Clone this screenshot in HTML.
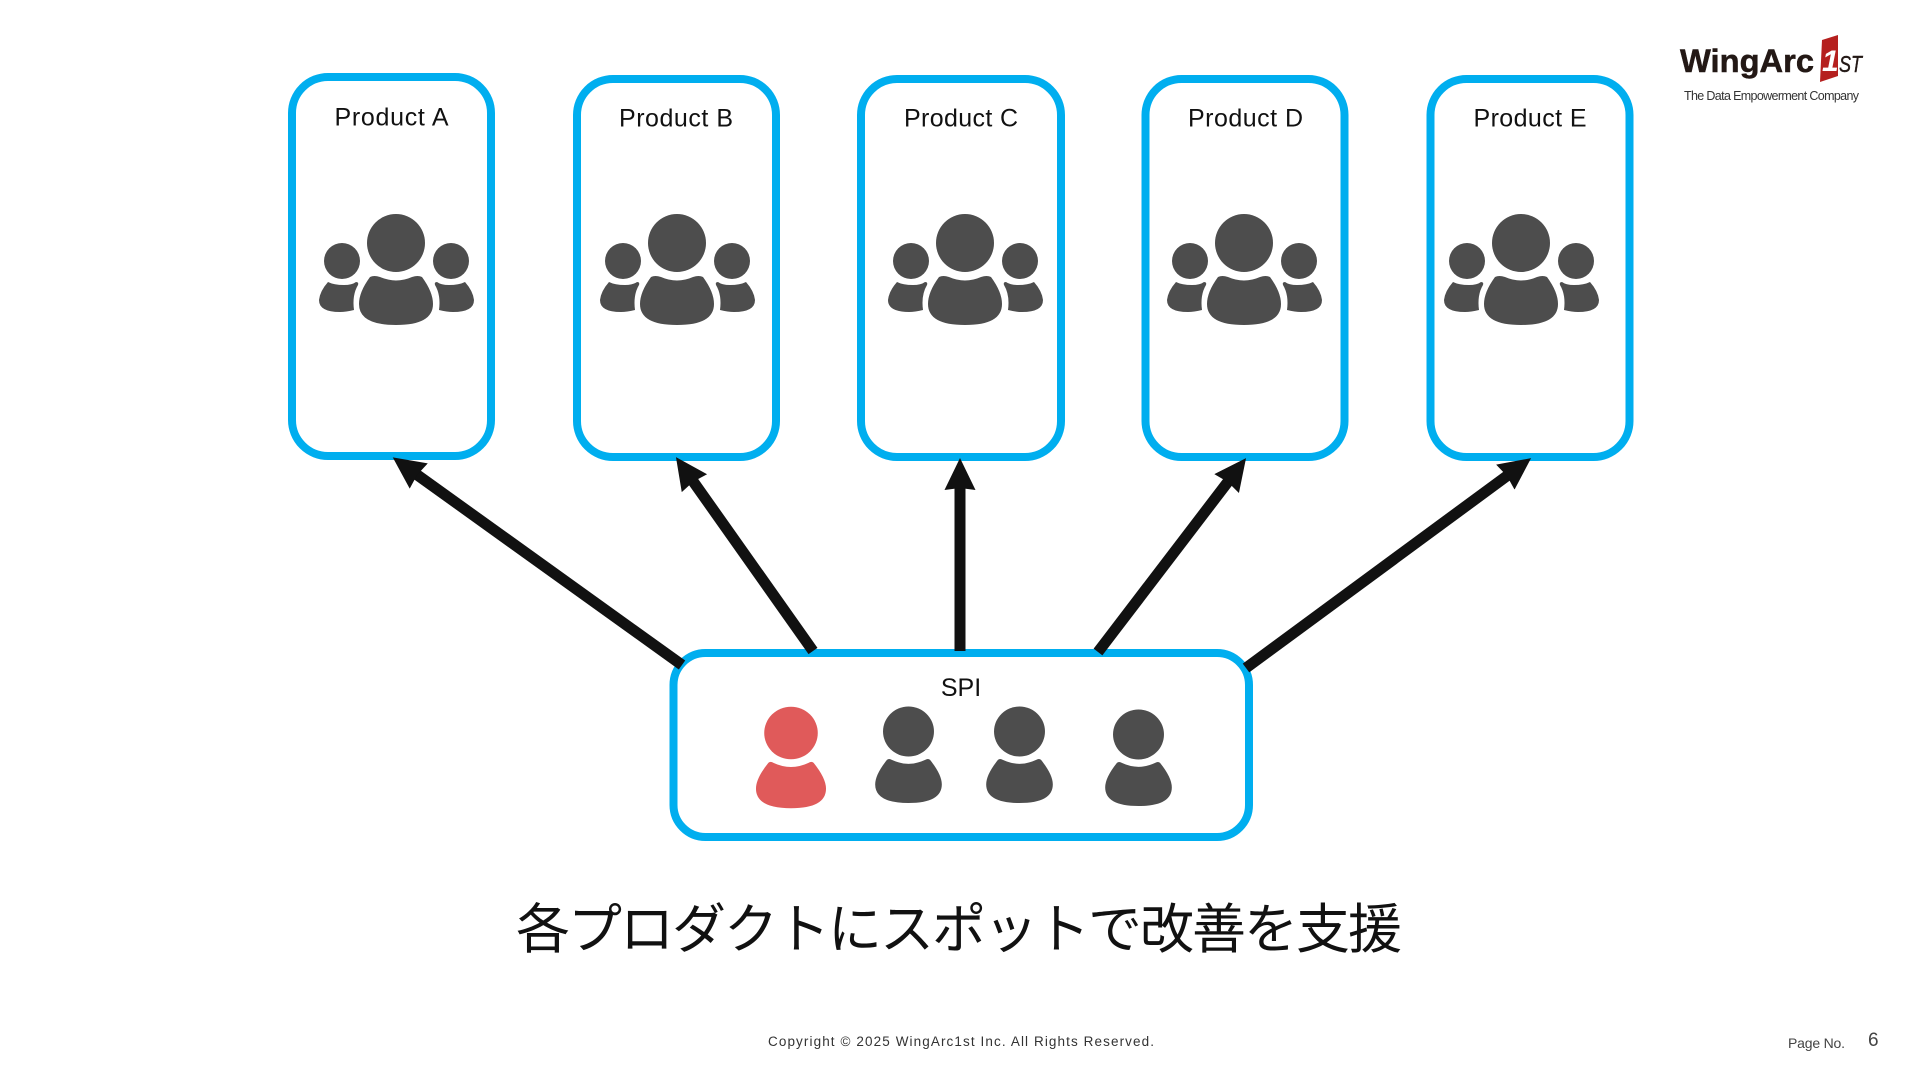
<!DOCTYPE html>
<html lang="ja">
<head>
<meta charset="utf-8">
<title>SPI</title>
<style>
html,body{margin:0;padding:0;background:#fff;width:1920px;height:1080px;overflow:hidden}
svg{display:block}
text{font-family:"Liberation Sans","Noto Sans CJK JP",sans-serif}
</style>
</head>
<body>
<svg width="1920" height="1080" viewBox="0 0 1920 1080" xmlns="http://www.w3.org/2000/svg">
<defs>
<marker id="h" markerUnits="userSpaceOnUse" markerWidth="36" markerHeight="36" refX="12" refY="18" orient="auto">
<path d="M0 2.5 L32 18 L0 33.5 L2 18Z" fill="#111"/>
</marker>
<path id="lb" d="M-68 282 Q-62 285 -52 285 Q-44 285 -40 282 Q-37 282 -38 285 Q-44 295 -42 310 Q-50 312 -56 312 Q-77 312 -77 300 Q-76 291 -68 282Z"/>
<g id="grp" fill="#4d4d4d">
<circle cx="0" cy="243" r="29"/>
<circle cx="-54" cy="261" r="18"/>
<circle cx="55" cy="261" r="18"/>
<path d="M-26 277 Q-22 275 -16 277 Q0 284 16 277 Q22 275 26 277 Q37 292 37 304 Q37 325 0 325 Q-37 325 -37 304 Q-37 292 -26 277Z"/>
<use href="#lb"/>
<use href="#lb" transform="translate(1,0) scale(-1,1)"/>
</g>
<g id="per">
<ellipse cx="0" cy="0" rx="26" ry="25.5"/>
<path d="M-22 29 Q-20 27 -17 29 Q0 37 17 29 Q20 27 22 29 Q34 44 34 54 Q34 73 0 73 Q-34 73 -34 54 Q-34 44 -22 29Z"/>
</g>
</defs>

<g fill="#fff" stroke="#00aeef" stroke-width="8">
<rect x="292" y="77" width="199" height="379" rx="36"/>
<rect x="577" y="79" width="199" height="378" rx="36"/>
<rect x="861" y="79" width="200" height="378" rx="36"/>
<rect x="1145.5" y="79" width="199" height="378" rx="36"/>
<rect x="1430.5" y="79" width="199" height="378" rx="36"/>
<rect x="673.5" y="653" width="575.5" height="184" rx="32"/>
</g>

<g font-size="25" fill="#111" text-anchor="middle">
<text x="391.5" y="125.5" textLength="114" lengthAdjust="spacing">Product A</text>
<text x="676" y="126.5" textLength="114" lengthAdjust="spacing">Product B</text>
<text x="961" y="126.5" textLength="114" lengthAdjust="spacing">Product C</text>
<text x="1245.5" y="126.5" textLength="115" lengthAdjust="spacing">Product D</text>
<text x="1530" y="126.5" textLength="113" lengthAdjust="spacing">Product E</text>
<text x="961" y="696">SPI</text>
</g>

<use href="#grp" x="396"/>
<use href="#grp" x="677"/>
<use href="#grp" x="965"/>
<use href="#grp" x="1244"/>
<use href="#grp" x="1521"/>

<use href="#per" transform="translate(791,733) scale(1.03)" fill="#e05a5a"/>
<use href="#per" transform="translate(908.5,731.5) scale(.98)" fill="#4d4d4d"/>
<use href="#per" transform="translate(1019.5,731.5) scale(.98)" fill="#4d4d4d"/>
<use href="#per" transform="translate(1138.5,734.5) scale(.98)" fill="#4d4d4d"/>

<g stroke="#111" stroke-width="11" fill="none">
<line x1="682" y1="665" x2="409" y2="469" marker-end="url(#h)"/>
<line x1="813" y1="651" x2="687.5" y2="473.4" marker-end="url(#h)"/>
<line x1="960" y1="651" x2="960" y2="478" marker-end="url(#h)"/>
<line x1="1098" y1="652" x2="1233.9" y2="474" marker-end="url(#h)"/>
<line x1="1246" y1="668" x2="1515" y2="470" marker-end="url(#h)"/>
</g>

<text x="516" y="948" font-size="54" fill="#111" textLength="886" lengthAdjust="spacing">各プロダクトにスポットで改善を支援</text>

<text x="768" y="1046" font-size="13.5" fill="#333" textLength="386" lengthAdjust="spacing">Copyright © 2025 WingArc1st Inc.  All Rights Reserved.</text>
<text x="1788" y="1048" font-size="14" fill="#444" textLength="57" lengthAdjust="spacing">Page No.</text>
<text x="1868" y="1046" font-size="19" fill="#444">6</text>

<text x="1680" y="72" font-size="32" font-weight="700" fill="#231815" stroke="#231815" stroke-width=".5" textLength="134" lengthAdjust="spacingAndGlyphs">WingArc</text>
<polygon points="1822,40 1838,35 1838,76 1820,82" fill="#b5201f"/>
<text x="1822" y="71" font-size="30" font-weight="700" font-style="italic" fill="#fff">1</text>
<text x="1839" y="72" font-size="23" font-style="italic" fill="#231815" stroke="#231815" stroke-width=".4" textLength="23" lengthAdjust="spacingAndGlyphs">ST</text>
<text x="1684" y="100" font-size="12.5" fill="#333" textLength="175" lengthAdjust="spacing">The Data Empowerment Company</text>
</svg>
</body>
</html>
